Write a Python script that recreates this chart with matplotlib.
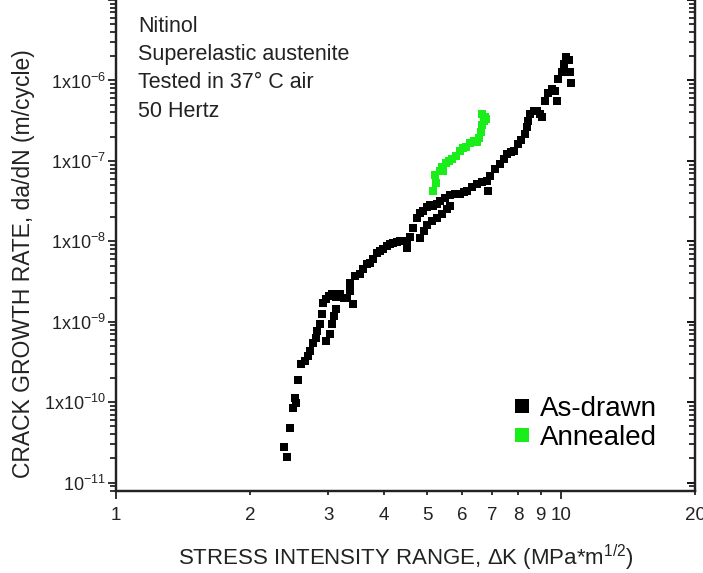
import numpy as np
import matplotlib
matplotlib.use('Agg')
import matplotlib.pyplot as plt
from matplotlib.ticker import FixedLocator, FixedFormatter, LogLocator, NullFormatter

plt.rcParams['font.family'] = ['Liberation Sans', 'DejaVu Sans']
plt.rcParams['mathtext.default'] = 'regular'

# As-drawn wire: stress intensity range (MPa*m^1/2) vs da/dN (m/cycle)
as_drawn_dk = [2.39, 2.42, 2.46, 2.50, 2.53, 2.54, 2.56, 2.60, 2.66, 2.70,
               2.73, 2.77, 2.82, 2.83, 2.87, 2.90, 2.92, 2.96, 3.01, 3.06,
               3.12, 2.96, 3.03, 3.06, 3.09, 3.12, 3.19, 3.25, 3.30, 3.36,
               3.41, 3.36, 3.44, 3.53, 3.59, 3.67, 3.72, 3.78, 3.86, 3.92,
               3.98, 4.06, 4.13, 4.19, 4.28, 4.35, 4.42, 4.51, 4.51, 4.58,
               4.65, 4.75, 4.82, 4.90, 5.00, 5.08, 5.16, 4.82, 4.92, 5.00,
               5.13, 5.27, 5.40, 5.55, 5.63, 5.27, 5.35, 5.49, 5.63, 5.78,
               5.93, 6.05, 6.15, 6.31, 6.48, 6.65, 6.82, 6.86, 6.93, 7.11,
               7.29, 7.45, 7.56, 7.72, 7.84, 8.01, 8.13, 8.30, 8.39, 8.43,
               8.52, 8.70, 8.84, 8.97, 9.07, 9.21, 9.35, 9.55, 9.69, 9.80,
               9.85, 10.05, 10.16, 10.26, 10.42, 10.47, 10.53]
as_drawn_rate = [2.76e-11, 2.07e-11, 4.75e-11, 8.41e-11, 1.12e-10, 9.72e-11,
                 1.87e-10, 2.97e-10, 3.23e-10, 3.72e-10, 4.30e-10, 5.41e-10,
                 6.24e-10, 7.62e-10, 9.31e-10, 1.24e-9, 1.70e-9, 1.91e-9,
                 2.07e-9, 2.20e-9, 2.01e-9, 5.73e-10, 7.00e-10, 9.31e-10,
                 1.17e-9, 1.43e-9, 2.20e-9, 1.96e-9, 1.96e-9, 2.39e-9,
                 1.65e-9, 3.01e-9, 3.67e-9, 3.89e-9, 4.49e-9, 5.18e-9,
                 5.33e-9, 5.97e-9, 7.10e-9, 7.52e-9, 7.96e-9, 8.67e-9,
                 9.18e-9, 9.45e-9, 9.72e-9, 1.0e-8, 1.0e-8, 1.0e-8,
                 8.18e-9, 1.12e-8, 1.45e-8, 1.93e-8, 2.23e-8, 2.36e-8,
                 2.64e-8, 2.80e-8, 2.72e-8, 1.09e-8, 1.33e-8, 1.58e-8,
                 1.77e-8, 1.93e-8, 2.16e-8, 2.50e-8, 2.72e-8, 2.88e-8,
                 3.14e-8, 3.42e-8, 3.72e-8, 3.83e-8, 3.83e-8, 4.06e-8,
                 4.18e-8, 4.69e-8, 5.11e-8, 5.41e-8, 5.56e-8, 4.18e-8,
                 6.41e-8, 7.84e-8, 9.05e-8, 1.07e-7, 1.21e-7, 1.28e-7,
                 1.31e-7, 1.60e-7, 1.80e-7, 2.13e-7, 2.61e-7, 3.10e-7,
                 3.78e-7, 4.12e-7, 4.12e-7, 3.78e-7, 3.47e-7, 5.48e-7,
                 6.90e-7, 7.73e-7, 7.30e-7, 5.48e-7, 1.03e-6, 1.29e-6,
                 1.58e-6, 1.93e-6, 1.82e-6, 1.29e-6, 9.18e-7]

# Annealed wire
annealed_dk = [5.16, 5.24, 5.21, 5.35, 5.43, 5.40, 5.52, 5.60, 5.69, 5.81,
               5.93, 6.02, 6.12, 6.24, 6.38, 6.48, 6.54, 6.61, 6.65, 6.71,
               6.78, 6.75, 6.65]
annealed_rate = [4.18e-8, 5.25e-8, 6.61e-8, 7.41e-8, 7.41e-8, 8.30e-8,
                 9.31e-8, 9.86e-8, 1.07e-7, 1.14e-7, 1.31e-7, 1.43e-7,
                 1.47e-7, 1.65e-7, 1.75e-7, 1.70e-7, 1.90e-7, 2.26e-7,
                 2.76e-7, 3.10e-7, 3.28e-7, 3.47e-7, 3.78e-7]

x_ticks = [1, 2, 3, 4, 5, 6, 7, 8, 9, 10, 20]
y_ticks = [1e-11, 1e-10, 1e-9, 1e-8, 1e-7, 1e-6, 1e-5]
y_labels = ['10$^{-11}$', '1x10$^{-10}$', '1x10$^{-9}$', '1x10$^{-8}$',
            '1x10$^{-7}$', '1x10$^{-6}$', '']
note_lines = ['Nitinol', 'Superelastic austenite', 'Tested in 37\u00b0 C air', '50 Hertz']

W, H = 703, 573
fig = plt.figure(figsize=(W / 100, H / 100), dpi=100)
ax = fig.add_axes([116 / W, 1 - 490.5 / H, 579 / W, 490.5 / H])

ax.plot(as_drawn_dk, as_drawn_rate, 's', color='black', ms=6.2, mew=0,
        label='As-drawn')
ax.plot(annealed_dk, annealed_rate, 's', color='#1aee1a', ms=6.2, mew=0,
        label='Annealed')

ax.set_xscale('log')
ax.set_yscale('log')
ax.set_xlim(1, 20)
ax.set_ylim(8e-12, 1e-5)

# x axis: 1 and 10 long ticks, the rest short but labelled
ax.xaxis.set_major_locator(FixedLocator([1, 10]))
ax.xaxis.set_major_formatter(FixedFormatter(['1', '10']))
ax.xaxis.set_minor_locator(FixedLocator([t for t in x_ticks if t not in (1, 10)]))
ax.xaxis.set_minor_formatter(FixedFormatter(['2', '3', '4', '5', '6', '7', '8', '9', '20']))
ax.tick_params(axis='x', which='major', direction='out', length=6, width=1.3,
               pad=6, labelsize=13.5, colors='#222222')
ax.tick_params(axis='x', which='minor', direction='out', length=3, width=1.3,
               pad=9, labelsize=13.5, colors='#222222')

ax.yaxis.set_major_locator(FixedLocator(y_ticks))
ax.yaxis.set_major_formatter(FixedFormatter(y_labels))
ax.yaxis.set_minor_locator(LogLocator(base=10, subs=np.arange(2, 10), numticks=20))
ax.yaxis.set_minor_formatter(NullFormatter())
ax.tick_params(axis='y', which='major', direction='out', length=6, width=1.3,
               pad=1, labelsize=13, colors='#222222')
ax.tick_params(axis='y', which='minor', direction='out', length=4, width=1.1)

# right-hand axis with inward ticks
ax2 = ax.twinx()
ax2.set_yscale('log')
ax2.set_ylim(ax.get_ylim())
ax2.yaxis.set_major_locator(FixedLocator(y_ticks))
ax2.yaxis.set_minor_locator(LogLocator(base=10, subs=np.arange(2, 10), numticks=20))
ax2.yaxis.set_major_formatter(NullFormatter())
ax2.yaxis.set_minor_formatter(NullFormatter())
ax2.tick_params(axis='y', which='major', direction='in', length=6, width=1.3)
ax2.tick_params(axis='y', which='minor', direction='in', length=4, width=1.1)

for a in (ax, ax2):
    a.spines['top'].set_visible(False)
    for s in ('left', 'right', 'bottom'):
        a.spines[s].set_linewidth(1.6)
        a.spines[s].set_color('#222222')

ax.set_xlabel('STRESS INTENSITY RANGE, \u0394K (MPa*m$^{1/2}$)', fontsize=16,
              color='#222222')
ax.xaxis.set_label_coords(0.5, -0.106)
ax.set_ylabel('CRACK GROWTH RATE, da/dN (m/cycle)', fontsize=16.5, color='#222222')
ax.yaxis.set_label_coords(-0.14, 0.462)

for i, line in enumerate(note_lines):
    fig.text(138 / W, 1 - (31.7 + 28.3 * i) / H, line, fontsize=15.5,
             color='#222222', va='baseline', ha='left')

ax.legend(loc='upper left', bbox_to_anchor=(511 / W, 1 - 396 / H),
          bbox_transform=fig.transFigure, frameon=False, fontsize=20,
          markerscale=1.55, handlelength=0.8, handletextpad=0.25,
          labelspacing=0.1, borderpad=0, borderaxespad=0)

fig.savefig('out.png', dpi=100)
